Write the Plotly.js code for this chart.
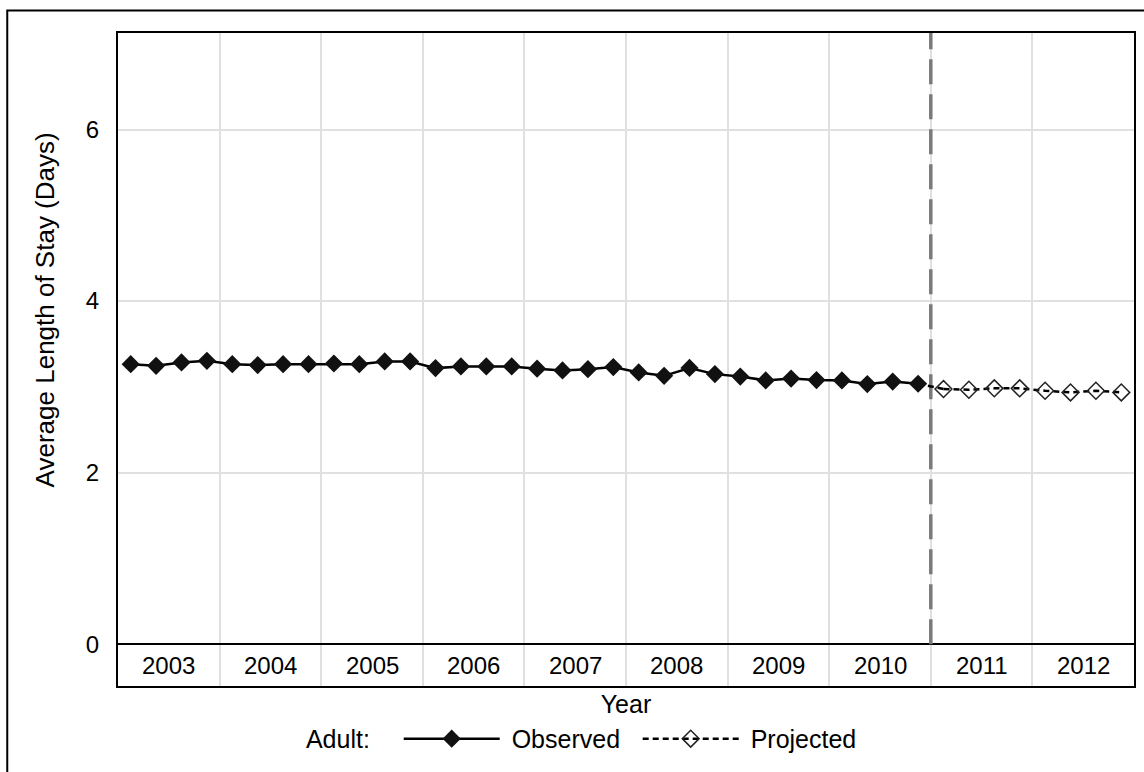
<!DOCTYPE html>
<html>
<head>
<meta charset="utf-8">
<script src="https://cdn.plot.ly/plotly-3.0.1.min.js"></script>
<style>html,body{margin:0;padding:0;background:#fff;}#chart{width:1144px;height:772px;}</style>
</head>
<body>
<div id="chart"></div>
<script>
// Data (quarterly values, 4 per year)
var years = ['2003','2004','2005','2006','2007','2008','2009','2010','2011','2012'];
var observed = [
  3.264, 3.245, 3.284, 3.303,
  3.264, 3.253, 3.264, 3.264,
  3.272, 3.264, 3.296, 3.296,
  3.218, 3.238, 3.238, 3.238,
  3.212, 3.191, 3.206, 3.230,
  3.168, 3.128, 3.220, 3.148,
  3.119, 3.075, 3.096, 3.079,
  3.075, 3.032, 3.061, 3.036
];
var projected = [2.974, 2.966, 2.982, 2.982, 2.954, 2.935, 2.954, 2.935];
var yTicks = [0, 2, 4, 6];
var groupLabel = 'Adult:';
var seriesNames = ['Observed', 'Projected'];
var xTitle = 'Year';
var yTitle = 'Average Length of Stay (Days)';

var FONT = 'Liberation Sans, Arial, sans-serif';
var nQ = 4;
var obsX = observed.map(function(_, i){ return i; });
var projX = projected.map(function(_, i){ return observed.length + i; });

var traces = [
  {
    x: [obsX[obsX.length-1], projX[0]],
    y: [observed[observed.length-1], projected[0]],
    mode: 'lines', showlegend: false, hoverinfo: 'skip',
    line: {color: '#000', width: 2.5, dash: '6px,4px'}
  },
  {
    name: '\u00a0' + seriesNames[0], x: obsX, y: observed, mode: 'lines+markers',
    line: {color: '#000', width: 2.5},
    marker: {symbol: 'diamond', size: 14, color: '#111', line: {width: 0}}
  },
  {
    name: '\u00a0' + seriesNames[1], x: projX, y: projected, mode: 'lines+markers',
    line: {color: '#000', width: 2.5, dash: '6px,4px'},
    marker: {symbol: 'diamond-open', size: 13, color: '#222', line: {width: 1.5}}
  }
];

var boundaries = [];
for (var k = 1; k < years.length; k++) boundaries.push(k*nQ - 0.5);

var annotations = years.map(function(yr, k){
  return {x: k*nQ + (nQ-1)/2, y: -0.244, xref: 'x', yref: 'y', text: yr,
    showarrow: false, font: {family: FONT, size: 24, color: '#000'}};
});
annotations.push({
  x: -0.0718, y: 0.5753, xref: 'paper', yref: 'paper', text: yTitle, textangle: -90,
  showarrow: false, xanchor: 'center', yanchor: 'middle',
  font: {family: FONT, size: 26, color: '#000'}
});

var totalPts = observed.length + projected.length;
var layout = {
  width: 1144, height: 772,
  margin: {l: 118, r: 10, t: 33, b: 84},
  paper_bgcolor: '#fff', plot_bgcolor: '#fff',
  font: {family: FONT, size: 24, color: '#000'},
  showlegend: true,
  legend: {
    orientation: 'h', x: 0.465, xanchor: 'center', y: -0.081, yanchor: 'middle',
    title: {text: groupLabel + '   ', side: 'left', font: {family: FONT, size: 25}},
    font: {family: FONT, size: 25, color: '#000'},
    itemwidth: 96, entrywidth: 128, entrywidthmode: 'pixels', bgcolor: 'rgba(0,0,0,0)'
  },
  xaxis: {
    range: [-0.5, totalPts - 0.5],
    tickvals: boundaries, showticklabels: false, ticks: '',
    showgrid: true, gridcolor: '#e0e0e0', gridwidth: 2,
    showline: true, linecolor: '#000', linewidth: 2, mirror: true,
    zeroline: false,
    title: {text: xTitle, standoff: 8, font: {family: FONT, size: 25}}
  },
  yaxis: {
    range: [-0.488, 7.125],
    tickvals: yTicks, ticks: 'outside', ticklen: 12, tickcolor: 'rgba(0,0,0,0)',
    tickfont: {family: FONT, size: 24},
    showgrid: true, gridcolor: '#e0e0e0', gridwidth: 2,
    zeroline: true, zerolinecolor: '#000', zerolinewidth: 2,
    showline: true, linecolor: '#000', linewidth: 2, mirror: true
  },
  shapes: [
    {type: 'line', xref: 'x', yref: 'y', x0: observed.length - 0.5, x1: observed.length - 0.5,
     y0: 0, y1: 7.125, line: {color: '#7a7a7a', width: 3.5, dash: '25px,10px'}, layer: 'between'},
    {type: 'rect', xref: 'paper', yref: 'paper', x0: -0.109, x1: 1.05, y0: -0.3, y1: 1.0346,
     line: {color: '#000', width: 2}, fillcolor: 'rgba(0,0,0,0)'}
  ],
  annotations: annotations
};

Plotly.newPlot('chart', traces, layout, {displayModeBar: false, staticPlot: true});
</script>
</body>
</html>
